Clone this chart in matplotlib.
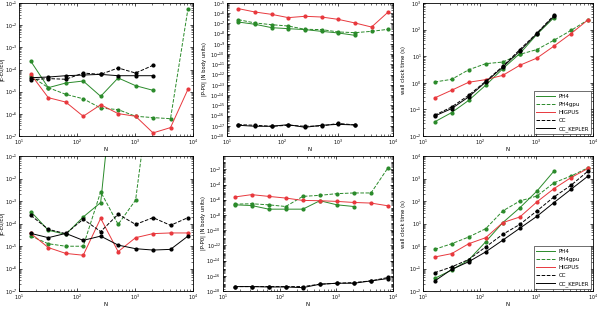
import numpy as np
import matplotlib
matplotlib.use("Agg")
import matplotlib.pyplot as plt
from matplotlib.lines import Line2D
from matplotlib.ticker import LogLocator

# particle numbers
N = [16, 32, 64, 128, 256, 512, 1024, 2048, 4096, 8192]

# top row, log10 values
top_dE = {
    "PH4": [-3.63, -4.82, -4.61, -4.52, -5.21, -4.38, -4.73, -4.94],
    "PH4gpu": [-4.3, -4.82, -5.12, -5.32, -5.74, -5.81, -6.11, -6.17, -6.22, -1.26],
    "HIGPUS": [-4.22, -5.27, -5.47, -6.11, -5.59, -5.99, -6.11, -6.86, -6.62, -4.89],
    "CC": [-4.46, -4.41, -4.44, -4.16, -4.22, -3.93, -4.16, -3.81],
    "CC_KEPLER": [-4.37, -4.34, -4.28, -4.25, -4.22, -4.28, -4.28, -4.28],
}
top_dP = {
    "PH4": [-6.86, -7.08, -7.41, -7.51, -7.6, -7.77, -7.93, -8.16],
    "PH4gpu": [-6.63, -6.95, -7.12, -7.25, -7.57, -7.6, -7.83, -7.9, -7.77, -7.57],
    "HIGPUS": [-5.55, -5.88, -6.11, -6.43, -6.3, -6.37, -6.6, -6.95, -7.35, -5.88],
    "CC": [-16.89, -16.95, -17.05, -16.95, -17.05, -17.02, -16.77, -16.92],
    "CC_KEPLER": [-16.95, -17.05, -17.05, -16.89, -17.15, -16.95, -16.86, -16.92],
}
top_time = {
    "PH4": [-1.47, -1.12, -0.66, -0.09, 0.53, 1.1, 1.82, 2.45],
    "PH4gpu": [0.03, 0.13, 0.49, 0.72, 0.78, 1.07, 1.25, 1.6, 1.97, 2.37],
    "HIGPUS": [-0.57, -0.28, 0.02, 0.12, 0.28, 0.66, 0.93, 1.38, 1.85, 2.37],
    "CC": [-1.22, -0.91, -0.47, 0.06, 0.62, 1.25, 1.87, 2.54],
    "CC_KEPLER": [-1.25, -0.97, -0.53, 0.03, 0.59, 1.2, 1.85, 2.5],
}

# bottom row
bot_dE = {
    "PH4": [-3.47, -4.3, -4.48, -3.71, -3.07, 4.4],
    "PH4gpu": [-4.56, -4.9, -5.01, -5.01, -2.59, -4.04, -2.96, 3.0],
    "HIGPUS": [-4.44, -5.07, -5.33, -5.41, -3.77, -5.25, -4.63, -4.45, -4.42, -4.42],
    "CC": [-3.64, -4.26, -4.45, -3.81, -4.36, -3.59, -4.04, -3.74, -4.08, -3.74],
    "CC_KEPLER": [-4.44, -4.63, -4.44, -4.75, -4.56, -4.96, -5.12, -5.18, -5.15, -4.56],
}
bot_dP = {
    "PH4": [-6.67, -6.76, -7.24, -7.24, -7.24, -6.13, -6.67, -6.89],
    "PH4gpu": [-6.58, -6.53, -6.67, -6.89, -5.56, -5.42, -5.2, -5.11, -5.11, -1.78],
    "HIGPUS": [-5.64, -5.33, -5.56, -5.78, -6.09, -6.13, -6.22, -6.36, -6.44, -6.8],
    "CC": [-17.42, -17.42, -17.42, -17.42, -17.42, -17.11, -16.98, -16.89, -16.67, -16.22],
    "CC_KEPLER": [-17.42, -17.42, -17.47, -17.47, -17.56, -17.11, -16.98, -16.98, -16.67, -16.36],
}
bot_time = {
    "PH4": [-1.44, -1.07, -0.62, 0.19, 1.04, 1.7, 2.44, 3.33],
    "PH4gpu": [-0.15, 0.1, 0.4, 0.77, 1.56, 2.0, 2.22, 2.81, 3.11, 3.48],
    "HIGPUS": [-0.49, -0.34, 0.1, 0.37, 1.04, 1.29, 1.96, 2.55, 3.04, 3.45],
    "CC": [-1.19, -0.93, -0.6, -0.04, 0.52, 0.96, 1.56, 2.18, 2.7, 3.33],
    "CC_KEPLER": [-1.56, -1.04, -0.7, -0.26, 0.26, 0.79, 1.32, 1.93, 2.52, 3.11],
}

styles = {
    "PH4": ("#2a8a2a", "-"),
    "PH4gpu": ("#2a8a2a", "--"),
    "HIGPUS": ("#e8383d", "-"),
    "CC": ("black", "--"),
    "CC_KEPLER": ("black", "-"),
}
order = ["PH4", "PH4gpu", "HIGPUS", "CC", "CC_KEPLER"]
FS = 4.0      # axis labels and legend
TFS = 3.4     # tick labels

W, H = 600, 309
fig = plt.figure(figsize=(W / 100, H / 100), dpi=100)


def px_axes(x0, x1, y0, y1):
    return fig.add_axes([x0 / W, (H - y1) / H, (x1 - x0) / W, (y1 - y0) / H])


def draw(ax, data, ylim, ylabel, yticks, legend=False, label_x=-0.085):
    for name in order:
        vals = data[name]
        c, ls = styles[name]
        ax.plot(N[:len(vals)], np.power(10.0, vals), color=c, ls=ls, lw=0.7,
                marker="o", ms=2.0, mec=c, mfc=c)
    ax.set_xscale("log")
    ax.set_yscale("log")
    ax.set_xlim(10, 1e4)
    ax.set_ylim(*ylim)
    ax.set_yticks(yticks)
    ax.yaxis.set_minor_locator(LogLocator(base=10, subs=np.arange(2, 10) * 0.1, numticks=100))
    ax.tick_params(which="both", direction="in", top=True, right=True, labelsize=TFS, pad=1.2)
    ax.tick_params(axis="x", pad=1.5)
    ax.tick_params(which="major", length=2.5, width=0.5)
    ax.tick_params(which="minor", length=1.2, width=0.4)
    for s in ax.spines.values():
        s.set_linewidth(0.6)
    ax.set_xlabel("N", fontsize=FS)
    ax.xaxis.set_label_coords(0.5, -0.085)
    ax.set_ylabel(ylabel, fontsize=3.8)
    ax.yaxis.set_label_coords(label_x, 0.5)
    if legend:
        handles = [Line2D([], [], color=styles[n][0], ls=styles[n][1], lw=0.7) for n in order]
        leg = ax.legend(handles, order, loc="lower right", fontsize=FS, handlelength=3.4,
                        frameon=True, fancybox=False, borderpad=0.45, labelspacing=0.55,
                        handletextpad=0.6, borderaxespad=0.3)
        leg.get_frame().set_edgecolor("black")
        leg.get_frame().set_linewidth(0.5)


dE_label = "|E-E0/E0|"
dP_label = "|P-P0| (N body units)"
t_label = "wall clock time (s)"

draw(px_axes(19, 193, 3, 136), top_dE, (1e-7, 1e-1), dE_label,
     [10.0 ** k for k in range(-7, 0)], label_x=-0.083)
draw(px_axes(227, 393, 3, 136), top_dP, (1e-18, 1e-5), dP_label,
     [10.0 ** k for k in range(-18, -4)], label_x=-0.118)
draw(px_axes(423, 593, 3, 136), top_time, (1e-2, 1e3), t_label,
     [10.0 ** k for k in range(-2, 4)], legend=True, label_x=-0.1)

draw(px_axes(19, 193, 156, 291), bot_dE, (1e-7, 1e-1), dE_label,
     [10.0 ** k for k in range(-7, 0)], label_x=-0.083)
draw(px_axes(223, 393, 156, 291), bot_dP, (1e-18, 10 ** -0.25), dP_label,
     [10.0 ** k for k in range(-18, -1, 2)], label_x=-0.1)
draw(px_axes(423, 593, 156, 291), bot_time, (1e-2, 1e4), t_label,
     [10.0 ** k for k in range(-2, 5)], legend=True, label_x=-0.1)

fig.savefig("out.png", dpi=100)
